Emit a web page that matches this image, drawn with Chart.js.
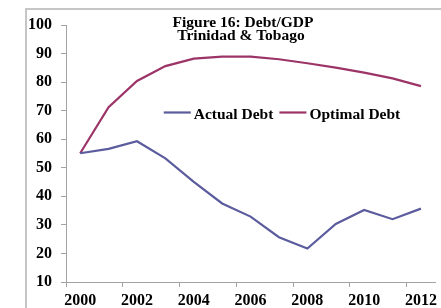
<!DOCTYPE html>
<html>
<head>
<meta charset="utf-8">
<script src="https://cdn.jsdelivr.net/npm/chart.js@4.4.1/dist/chart.umd.min.js"></script>
<style>
  html, body { margin: 0; padding: 0; background: #ffffff; }
  #wrap { position: relative; width: 441px; height: 308px; }
</style>
</head>
<body>
<div id="wrap"><canvas id="c" width="441" height="308"></canvas></div>
<script>
const years = ['2000','2001','2002','2003','2004','2005','2006','2007','2008','2009','2010','2011','2012'];
const actualDebt = [55.1, 56.6, 59.3, 53.3, 45.1, 37.5, 32.9, 25.7, 21.7, 30.3, 35.2, 32.0, 35.7];
const optimalDebt = [55.1, 71.2, 80.4, 85.6, 88.2, 88.9, 88.9, 88.0, 86.6, 85.1, 83.3, 81.3, 78.6];
const titleLines = ['Figure 16: Debt/GDP', 'Trinidad & Tobago'];
const seriesNames = ['Actual Debt', 'Optimal Debt'];

const FONT = '"Liberation Serif", "Times New Roman", serif';
const AXIS_GRAY = '#a3a3a3';

const framePlugin = {
  id: 'frame',
  beforeDraw(chart) {
    const ctx = chart.ctx;
    ctx.save();
    ctx.fillStyle = '#c6c6c6';
    ctx.fillRect(25, 8, 2, chart.height - 8);
    ctx.fillRect(25, 8, chart.width - 25, 2);
    ctx.restore();
  }
};

const overlayPlugin = {
  id: 'overlay',
  afterDraw(chart) {
    const ctx = chart.ctx;
    ctx.save();
    // Title
    ctx.fillStyle = '#000';
    ctx.font = 'bold 15.5px ' + FONT;
    ctx.textAlign = 'center';
    ctx.textBaseline = 'alphabetic';
    ctx.fillText(titleLines[0], 243, 27);
    ctx.fillText(titleLines[1], 241, 40);
    // Legend
    ctx.font = 'bold 15.5px ' + FONT;
    ctx.textAlign = 'left';
    const lineLen = 27, gap = 3, itemGap = 6;
    const ds = chart.data.datasets;
    const widths = ds.map(d => ctx.measureText(d.label).width);
    let total = 0;
    ds.forEach((d, i) => { total += lineLen + gap + widths[i] + (i < ds.length - 1 ? itemGap : 0); });
    let x = 282 - total / 2;
    const ly = 112.5;
    ds.forEach((d, i) => {
      ctx.strokeStyle = d.borderColor;
      ctx.lineWidth = 2.2;
      ctx.beginPath();
      ctx.moveTo(x, ly);
      ctx.lineTo(x + lineLen, ly);
      ctx.stroke();
      x += lineLen + gap;
      ctx.fillStyle = '#000';
      ctx.fillText(d.label, x, 119);
      x += widths[i] + itemGap;
    });
    ctx.restore();
  }
};

new Chart(document.getElementById('c'), {
  type: 'line',
  data: {
    labels: years,
    datasets: [
      {
        label: seriesNames[0],
        data: actualDebt,
        borderColor: '#5b5c9d',
        backgroundColor: '#5b5c9d',
        borderWidth: 2.2,
        pointRadius: 0,
        tension: 0,
        fill: false
      },
      {
        label: seriesNames[1],
        data: optimalDebt,
        borderColor: '#9c3468',
        backgroundColor: '#9c3468',
        borderWidth: 2.2,
        pointRadius: 0,
        tension: 0,
        fill: false
      }
    ]
  },
  options: {
    responsive: false,
    animation: false,
    devicePixelRatio: 1,
    layout: { padding: { left: 0, right: 1.5, top: 25, bottom: 0 } },
    plugins: {
      legend: { display: false },
      title: { display: false },
      tooltip: { enabled: false }
    },
    scales: {
      x: {
        type: 'category',
        offset: true,
        afterFit(scale) { scale.height = 26; },
        border: { display: true, color: AXIS_GRAY, width: 1 },
        grid: {
          offset: true,
          drawOnChartArea: false,
          drawTicks: true,
          tickLength: 5,
          color: (ctx) => (ctx.index % 2 === 0 ? AXIS_GRAY : 'rgba(0,0,0,0)')
        },
        ticks: {
          autoSkip: false,
          maxRotation: 0,
          minRotation: 0,
          padding: 4,
          color: '#000',
          font: { family: FONT, size: 16, weight: 'bold' },
          callback: function (value, index) {
            return index % 2 === 0 ? this.getLabelForValue(value) : '';
          }
        }
      },
      y: {
        min: 10,
        max: 100,
        afterFit(scale) { scale.width = 66; },
        border: { display: true, color: AXIS_GRAY, width: 1 },
        grid: {
          drawOnChartArea: false,
          drawTicks: true,
          tickLength: 5,
          color: AXIS_GRAY
        },
        ticks: {
          stepSize: 10,
          padding: 9,
          color: '#000',
          font: { family: FONT, size: 16, weight: 'bold' }
        }
      }
    }
  },
  plugins: [framePlugin, overlayPlugin]
});
</script>
</body>
</html>
